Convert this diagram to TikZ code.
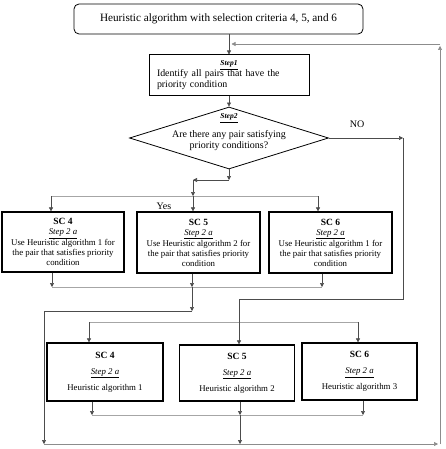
\documentclass[tikz,border=0pt]{standalone}
\usepackage{fontspec}
\setmainfont{Liberation Serif}
\usetikzlibrary{arrows.meta, positioning, shapes.geometric}
\tikzstyle{arrow} = [draw=black!70, line width=0.6pt, -{Triangle[length=4pt,width=4pt]}]
\tikzstyle{link} = [draw=black!70, line width=0.6pt]
\tikzstyle{bus} = [draw=black!35, line width=1pt]
\tikzstyle{scbox} = [draw, rectangle, line width=1.2pt, align=center, inner sep=0pt]
\newcommand{\steplbl}[1]{\underline{\textit{#1}}}
\newcommand{\sclbl}[1]{{\fontsize{9.5}{10}\selectfont\bfseries #1}}

\begin{document}
\begin{tikzpicture}[x=1pt, y=-1pt]
  \useasboundingbox (0,0) rectangle (445,449);

  % Nodes
  \node (title) [draw, rectangle, rounded corners=5pt, line width=0.8pt, minimum width=289pt, minimum height=30pt, font=\fontsize{11.2}{13}\selectfont] at (218.5,19) {Heuristic algorithm with selection criteria 4, 5, and 6};
  \node (step1) [draw, rectangle, line width=1pt, minimum width=160pt, minimum height=41pt, text width=144pt, inner xsep=8pt, align=left, font=\fontsize{9.9}{11}\selectfont] at (229,75.5) {\makebox[\linewidth]{\fontsize{7.5}{9}\selectfont\bfseries\steplbl{Step1}}\\Identify all pairs that have the\\priority condition};
  \node (dia) [draw, diamond, line width=0.8pt, minimum width=199pt, minimum height=62pt, inner sep=0pt] at (229,138) {};
  \node (ask) [align=center, font=\fontsize{10}{11}\selectfont] at (229,132.5) {{\fontsize{7.5}{9}\selectfont\bfseries\steplbl{Step2}}\\[8pt]Are there any pair satisfying\\priority conditions?};
  \node (no) [font=\fontsize{10}{11}\selectfont] at (357,124) {NO};
  \node (yes) [font=\fontsize{10}{11}\selectfont] at (164,206) {Yes};

  \node (sc4a) [scbox, minimum width=122pt, minimum height=60pt, font=\fontsize{8.8}{10}\selectfont] at (63,242) {\sclbl{SC 4}\\\steplbl{Step 2 a}\\Use Heuristic algorithm 1 for\\the pair that satisfies priority\\condition};
  \node (sc5a) [scbox, minimum width=123pt, minimum height=61pt, font=\fontsize{8.8}{10}\selectfont] at (198.5,242.5) {\sclbl{SC 5}\\\steplbl{Step 2 a}\\Use Heuristic algorithm 2 for\\the pair that satisfies priority\\condition};
  \node (sc6a) [scbox, minimum width=123pt, minimum height=61pt, font=\fontsize{8.8}{10}\selectfont] at (330.5,242.5) {\sclbl{SC 6}\\\steplbl{Step 2 a}\\Use Heuristic algorithm 1 for\\the pair that satisfies priority\\condition};

  \node (sc4b) [scbox, minimum width=116pt, minimum height=58pt, font=\fontsize{8.8}{10}\selectfont] at (105,372) {\sclbl{SC 4}\\[6pt]\steplbl{Step 2 a}\\[6pt]Heuristic algorithm 1};
  \node (sc5b) [scbox, minimum width=115pt, minimum height=56pt, font=\fontsize{8.8}{10}\selectfont] at (237,373) {\sclbl{SC 5}\\[6pt]\steplbl{Step 2 a}\\[6pt]Heuristic algorithm 2};
  \node (sc6b) [scbox, minimum width=115pt, minimum height=57pt, font=\fontsize{8.8}{10}\selectfont] at (359.5,371.5) {\sclbl{SC 6}\\[6pt]\steplbl{Step 2 a}\\[6pt]Heuristic algorithm 3};

  % Junctions
  \coordinate (dsplit) at (229,180);
  \coordinate (dleft) at (193,180);
  \coordinate (in5a) at (193,196);
  \coordinate (in4a) at (51,196);
  \coordinate (in6a) at (318,196);
  \coordinate (out4a) at (52,287);
  \coordinate (out5a) at (192,287);
  \coordinate (out6a) at (322,287);
  \coordinate (drop) at (192,311);
  \coordinate (leftdown) at (44,311);
  \coordinate (leftbot) at (44,444);
  \coordinate (rightbot) at (440,444);
  \coordinate (righttop) at (440,44);
  \coordinate (join) at (231.5,44);
  \coordinate (noend) at (403,138);
  \coordinate (noturn) at (239,299);
  \coordinate (in5b) at (239,322);
  \coordinate (in4b) at (89,322);
  \coordinate (in6b) at (358,322);
  \coordinate (out4b) at (92,415);
  \coordinate (out5b) at (240,415);
  \coordinate (out6b) at (363,415);
  \coordinate (backin) at (240,444);

  % Arrows
  \draw[arrow] (step1.north |- title.south) -- (step1.north);
  \draw[arrow] (step1.south) -- (dia.north);
  \draw[arrow] (dia.east) -- (noend);
  \draw[link] (noend) |- (noturn) -- (in5b);

  \draw[arrow] (dia.south) -- (dsplit);
  \draw[arrow] (dsplit) -- (dleft);
  \draw[arrow] (dleft) -- (in5a);
  \draw[bus] (in4a) -- (in6a);
  \draw[arrow] (in4a) -- (in4a |- sc4a.north);
  \draw[arrow] (in5a) -- (in5a |- sc5a.north);
  \draw[arrow] (in6a) -- (in6a |- sc6a.north);

  \draw[bus] (out4a) -- (out6a);
  \draw[arrow] (sc4a.south -| out4a) -- (out4a);
  \draw[arrow] (sc5a.south -| out5a) -- (out5a);
  \draw[arrow] (sc6a.south -| out6a) -- (out6a);
  \draw[arrow] (out5a) -- (drop);
  \draw[link] (drop) -- (leftdown);
  \draw[arrow] (leftdown) -- (leftbot);

  \draw[bus] (in4b) -- (in6b);
  \draw[arrow] (in4b) -- (in4b |- sc4b.north);
  \draw[arrow] (in5b) -- (in5b |- sc5b.north);
  \draw[arrow] (in6b) -- (in6b |- sc6b.north);

  \draw[bus] (out4b) -- (out6b);
  \draw[arrow] (sc4b.south -| out4b) -- (out4b);
  \draw[arrow] (sc5b.south -| out5b) -- (out5b);
  \draw[arrow] (sc6b.south -| out6b) -- (out6b);
  \draw[arrow] (out5b) -- (backin);

  % Loop back to step 1
  \draw[arrow, draw=black!45] (leftbot) -- ([xshift=-2pt]rightbot);
  \draw[arrow, draw=black!45] (rightbot) -- ([yshift=-2pt]righttop);
  \draw[arrow, draw=black!45] (righttop) -- (join);
\end{tikzpicture}
\end{document}
